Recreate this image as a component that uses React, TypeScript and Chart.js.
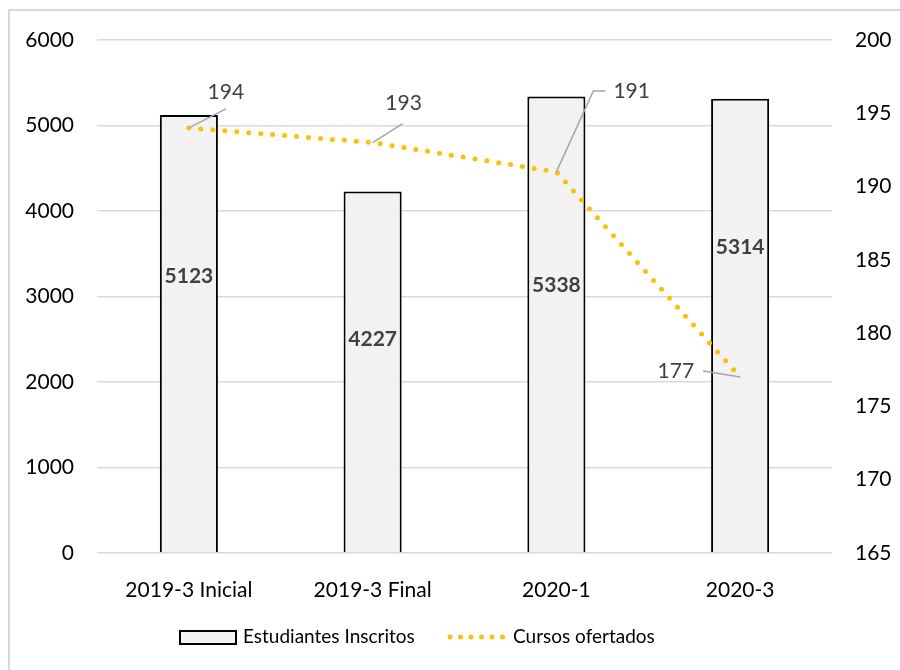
import React, { useEffect, useRef } from "react";
import { Chart, registerables } from "chart.js";

Chart.register(...registerables);

// ---- data ----
const categories = ["2019-3 Inicial", "2019-3 Final", "2020-1", "2020-3"];
const estudiantesInscritos = [5123, 4227, 5338, 5314];
const cursosOfertados = [194, 193, 191, 177];
const leftAxis = { min: 0, max: 6000, step: 1000 };
const rightAxis = { min: 165, max: 200, step: 5 };
const seriesNames = ["Estudiantes Inscritos", "Cursos ofertados"];

// ---- styling / label placement ----
const FONT = "Lato, 'Open Sans', sans-serif";
const BAR_FILL = "#f2f2f2";
const LINE_COLOR = "#FFC000";
const GRID = "#d9d9d9";
const LABEL_COLOR = "#404040";
// fraction from bar top toward base where the bar's value label sits
const BAR_LABEL_FRAC = [0.368, 0.41, 0.414, 0.328];
// leader-line / label offsets (px) relative to each line point
const LINE_LABEL_LAYOUT = [
  { leader: [[37, -19]], text: [37, -36], align: "center" },
  { leader: [[30, -19]], text: [31, -39], align: "center" },
  { leader: [[37, -81], [49, -81]], text: [57, -81], align: "left" },
  { leader: [[-37, -6]], text: [-46, -6], align: "right" },
];

const decorPlugin = {
  id: "decor",
  beforeDraw(chart: any) {
    const ctx = chart.ctx;
    ctx.save();
    ctx.fillStyle = "#ffffff";
    ctx.fillRect(0, 0, chart.width, chart.height);
    ctx.fillStyle = GRID;
    ctx.fillRect(8, 9, 2, chart.height - 9);
    ctx.fillRect(8, 9, chart.width - 8, 2);
    ctx.restore();
  },
  afterDatasetsDraw(chart: any) {
    const ctx = chart.ctx;
    ctx.save();
    const barMeta = chart.getDatasetMeta(1);
    ctx.font = `bold 21px ${FONT}`;
    ctx.fillStyle = LABEL_COLOR;
    ctx.textAlign = "center";
    ctx.textBaseline = "middle";
    barMeta.data.forEach((el: any, i: number) => {
      const y = el.y + BAR_LABEL_FRAC[i] * (el.base - el.y);
      ctx.fillText(String(estudiantesInscritos[i]), el.x, y);
    });
    const lineMeta = chart.getDatasetMeta(0);
    ctx.font = `21px ${FONT}`;
    lineMeta.data.forEach((el: any, i: number) => {
      const lay: any = LINE_LABEL_LAYOUT[i];
      ctx.strokeStyle = "#a6a6a6";
      ctx.lineWidth = 1.5;
      ctx.setLineDash([]);
      ctx.beginPath();
      ctx.moveTo(el.x, el.y);
      lay.leader.forEach((p: number[]) => ctx.lineTo(el.x + p[0], el.y + p[1]));
      ctx.stroke();
      ctx.textAlign = lay.align;
      ctx.fillStyle = LABEL_COLOR;
      ctx.fillText(String(cursosOfertados[i]), el.x + lay.text[0], el.y + lay.text[1]);
    });
    ctx.restore();
  },
  afterDraw(chart: any) {
    const ctx = chart.ctx;
    ctx.save();
    const cy = 637;
    ctx.fillStyle = BAR_FILL;
    ctx.fillRect(179, 631, 57, 13);
    ctx.strokeStyle = "#000";
    ctx.lineWidth = 2;
    ctx.strokeRect(180, 631, 56, 13);
    ctx.font = `19px ${FONT}`;
    ctx.fillStyle = "#000";
    ctx.textAlign = "left";
    ctx.textBaseline = "middle";
    ctx.fillText(seriesNames[0], 243, cy);
    ctx.strokeStyle = LINE_COLOR;
    ctx.lineWidth = 5;
    ctx.lineCap = "round";
    ctx.setLineDash([0, 10.5]);
    ctx.beginPath();
    ctx.moveTo(450, cy);
    ctx.lineTo(503, cy);
    ctx.stroke();
    ctx.setLineDash([]);
    ctx.fillText(seriesNames[1], 513, cy);
    ctx.restore();
  },
};

export default function App() {
  const ref = useRef<HTMLCanvasElement | null>(null);
  useEffect(() => {
    if (!ref.current) return;
    const chart = new Chart(ref.current, {
      type: "bar",
      data: {
        labels: categories,
        datasets: [
          {
            type: "line",
            label: seriesNames[1],
            data: cursosOfertados,
            yAxisID: "y1",
            borderColor: LINE_COLOR,
            borderWidth: 5,
            borderCapStyle: "round",
            borderDash: [0, 12],
            pointRadius: 0,
            fill: false,
            tension: 0,
            order: 0,
          } as any,
          {
            type: "bar",
            label: seriesNames[0],
            data: estudiantesInscritos,
            yAxisID: "y",
            backgroundColor: BAR_FILL,
            borderColor: "#000000",
            borderWidth: 2,
            barPercentage: 0.316,
            categoryPercentage: 1,
            order: 1,
          },
        ],
      },
      options: {
        responsive: false,
        animation: false,
        devicePixelRatio: 1,
        layout: { padding: { top: 40, left: 0, right: 0, bottom: 0 } },
        plugins: { legend: { display: false }, tooltip: { enabled: false } },
        scales: {
          x: {
            grid: { display: false },
            border: { display: false },
            ticks: { color: "#000", font: { family: FONT, size: 21 }, padding: 17, maxRotation: 0 },
            afterFit: (s: any) => { s.height = 117; },
          },
          y: {
            position: "left",
            min: leftAxis.min,
            max: leftAxis.max,
            ticks: {
              stepSize: leftAxis.step,
              color: "#000",
              font: { family: FONT, size: 21 },
              padding: 23,
              callback: (v: any) => String(v),
            },
            grid: { color: GRID, lineWidth: 1.5, drawTicks: false },
            border: { display: false },
            afterFit: (s: any) => { s.width = 97; },
          },
          y1: {
            position: "right",
            min: rightAxis.min,
            max: rightAxis.max,
            ticks: {
              stepSize: rightAxis.step,
              color: "#000",
              font: { family: FONT, size: 21 },
              padding: 23,
              callback: (v: any) => String(v),
            },
            grid: { display: false, drawTicks: false },
            border: { display: false },
            afterFit: (s: any) => { s.width = 68; },
          },
        },
      },
      plugins: [decorPlugin],
    });
    return () => chart.destroy();
  }, []);
  return (
    <canvas
      ref={ref}
      width={900}
      height={670}
      style={{ position: "fixed", left: 0, top: 0, width: 900, height: 670 }}
    />
  );
}
